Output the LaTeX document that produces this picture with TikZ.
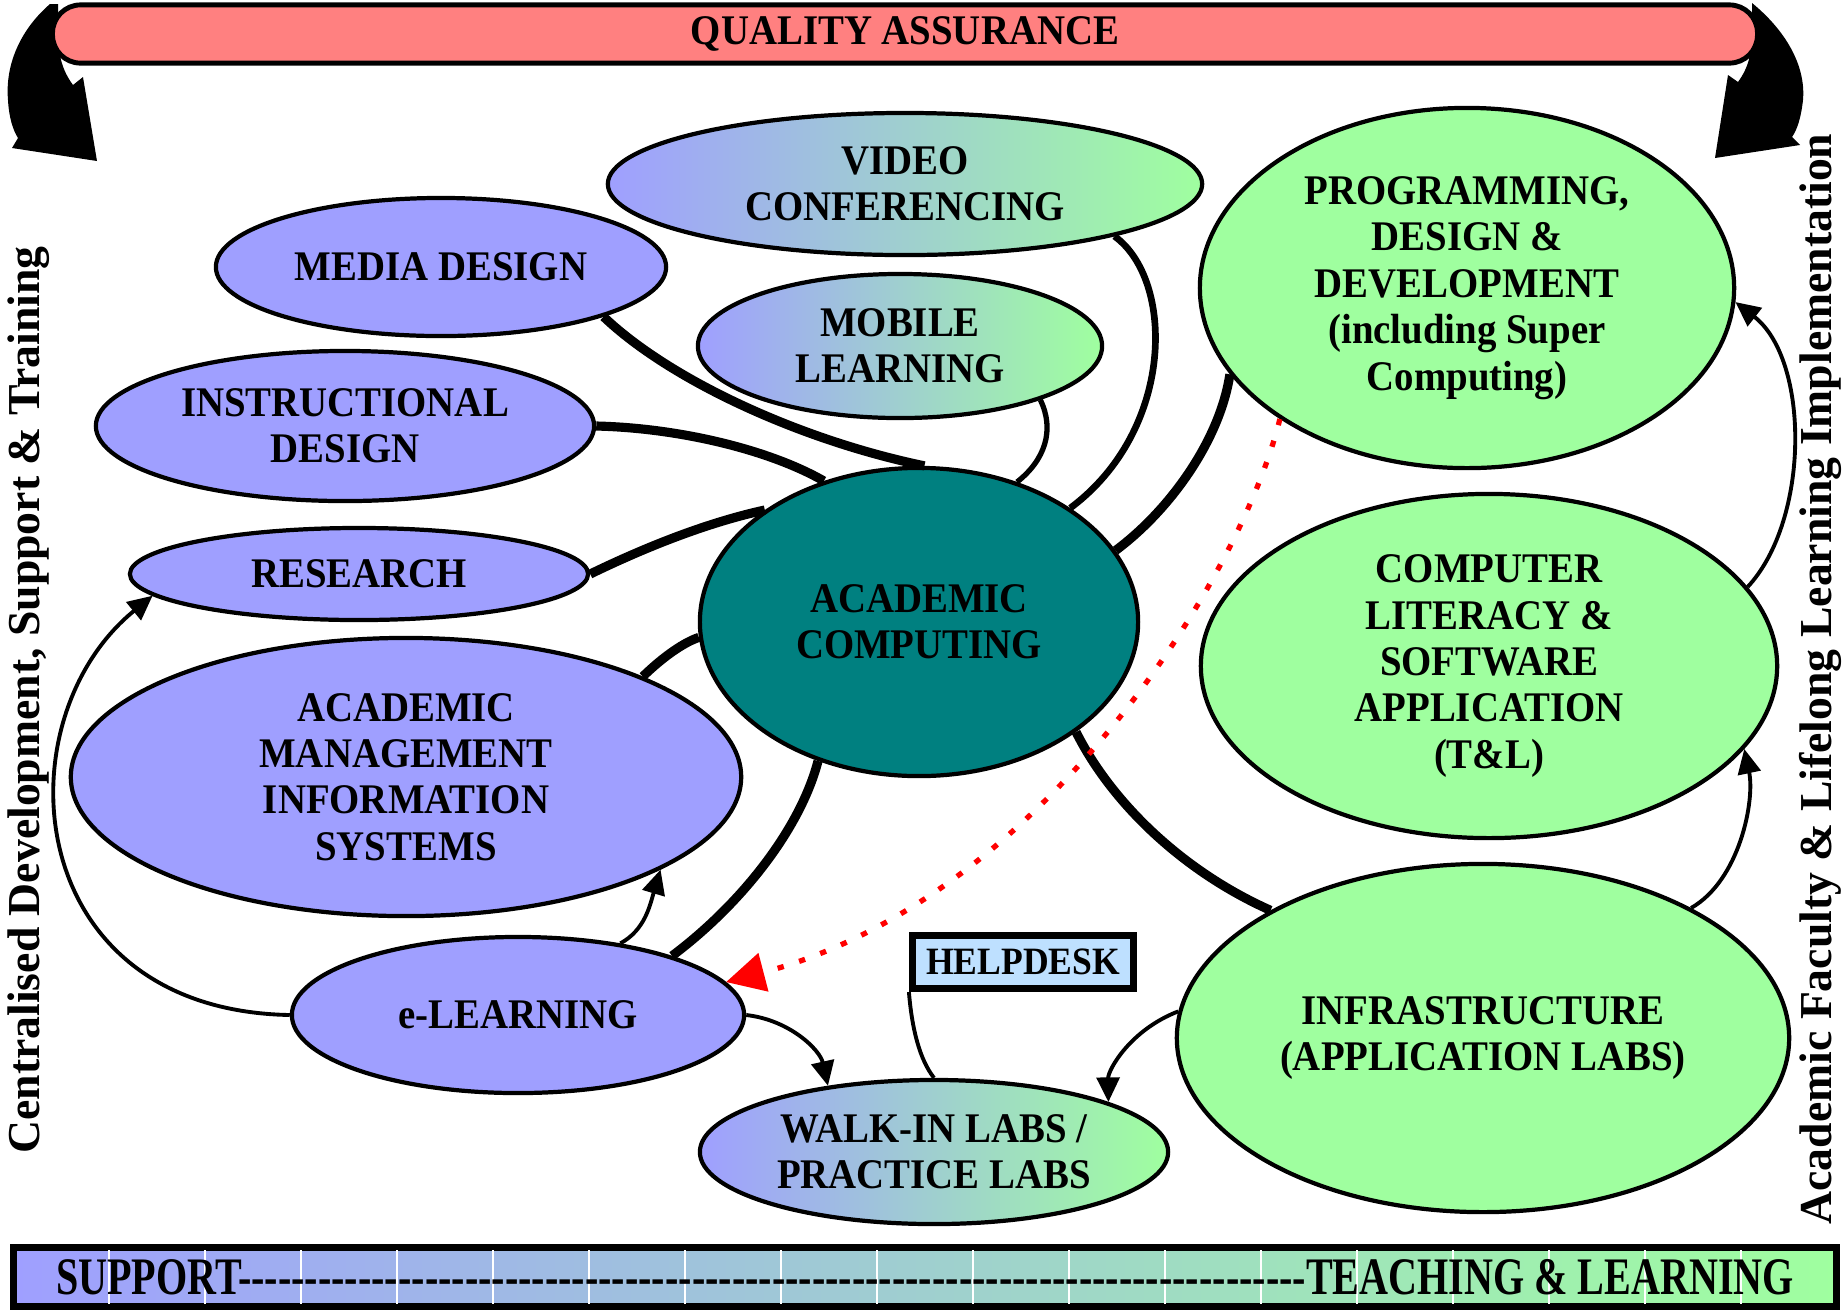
\documentclass[tikz,border=0pt]{standalone}
\usepackage{fontspec}
\setmainfont{Liberation Serif}
\newfontfamily\ovalfont{Liberation Serif}[FakeStretch=0.92]
\newfontfamily\stripfont{Liberation Serif}[FakeStretch=0.76]
\usetikzlibrary{arrows.meta,shapes.geometric}
\definecolor{lavender}{RGB}{159,159,255}
\definecolor{mint}{RGB}{159,255,159}
\definecolor{tealnode}{RGB}{0,128,128}
\definecolor{salmon}{RGB}{255,128,128}
\definecolor{skyfill}{RGB}{190,224,255}
\tikzset{
    oval/.style={ellipse, draw, line width=1.2pt, inner sep=0pt, align=center,
        font=\ovalfont\bfseries\fontsize{12}{13.2}\selectfont},
    support/.style={oval, fill=lavender},
    teaching/.style={oval, fill=mint},
    bridge/.style={oval, left color=lavender, right color=mint},
    spoke/.style={line width=2.6pt},
    link/.style={line width=1.1pt, -{Triangle[length=7pt,width=6.5pt]}},
    redlink/.style={red, line width=1.5pt, dash pattern=on 1.8pt off 4.6pt,
        -{Triangle[length=11pt,width=11pt]}},
    sidetext/.style={font=\bfseries\fontsize{13}{15}\selectfont, rotate=90}
}
\newcommand{\dashrow}{\foreach \i in {1,...,80}{-\kern0pt}}

\begin{document}
\begin{tikzpicture}[x=0.01cm, y=-0.01cm]
    \useasboundingbox (0,0) rectangle (1845,1311);

    \fill (50,4) .. controls (20,30) and (5,65) .. (8,100) .. controls (9,118) and (13,130) .. (18,138)
        -- (12,148) -- (97,161) -- (83,77) -- (73,85) .. controls (62,70) and (58,55) .. (58,30) -- (58,4) -- cycle;
    \fill (1752,3) .. controls (1785,30) and (1806,65) .. (1803,100) .. controls (1801,118) and (1797,130) .. (1792,137)
        -- (1800,145) -- (1715,158) -- (1728,75) -- (1738,82) .. controls (1748,68) and (1752,55) .. (1752,30) -- cycle;
    \node[draw, line width=1.4pt, fill=salmon, rounded corners=8pt, minimum width=17.04cm, minimum height=0.58cm,
        font=\ovalfont\bfseries\fontsize{12}{14}\selectfont] (qa) at (905,34) {QUALITY ASSURANCE};

    \node[sidetext] (centrallbl) at (29,700) {Centralised Development, Support \& Training};
    \node[sidetext] (facultylbl) at (1820,679) {Academic Faculty \& Lifelong Learning Implementation};

    \node[support, minimum width=4.5cm, minimum height=1.38cm] (media) at (441,267) {MEDIA DESIGN};
    \node[support, minimum width=4.98cm, minimum height=1.5cm] (instr) at (345,426) {INSTRUCTIONAL\\DESIGN};
    \node[support, minimum width=4.58cm, minimum height=0.92cm] (research) at (359,574) {RESEARCH};
    \node[support, minimum width=6.7cm, minimum height=2.78cm] (amis) at (406,777) {ACADEMIC\\MANAGEMENT\\INFORMATION\\SYSTEMS};
    \node[support, minimum width=4.52cm, minimum height=1.56cm] (elearn) at (518,1015) {e-LEARNING};
    \node[bridge, minimum width=4.68cm, minimum height=1.44cm] (walkin) at (934,1152) {WALK-IN LABS /\\PRACTICE LABS};
    \node[oval, fill=tealnode, minimum width=4.38cm, minimum height=3.08cm] (acad) at (919,622) {ACADEMIC\\COMPUTING};
    \node[bridge, minimum width=5.94cm, minimum height=1.42cm] (video) at (905,184) {VIDEO\\CONFERENCING};
    \node[bridge, minimum width=4.04cm, minimum height=1.44cm] (mobile) at (900,346) {MOBILE\\LEARNING};
    \node[teaching, minimum width=5.34cm, minimum height=3.6cm] (prog) at (1467,288)
        {PROGRAMMING,\\DESIGN \&\\DEVELOPMENT\\(including Super\\Computing)};
    \node[teaching, minimum width=5.76cm, minimum height=3.44cm] (complit) at (1489,666)
        {COMPUTER\\LITERACY \&\\SOFTWARE\\APPLICATION\\(T\&L)};
    \node[teaching, minimum width=6.12cm, minimum height=3.48cm] (infra) at (1483,1038) {INFRASTRUCTURE\\(APPLICATION LABS)};
    \node[draw, line width=2pt, fill=skyfill, minimum width=2.21cm, minimum height=0.53cm, inner sep=0pt,
        font=\ovalfont\bfseries\fontsize{11}{13}\selectfont] (helpdesk) at (1023,962) {HELPDESK};

    \draw[spoke] (media.-17) .. controls (670,380) and (800,440) .. (acad.88);
    \draw[spoke] (instr.0) .. controls (680,428) and (770,450) .. (acad.124);
    \draw[spoke] (research.0) .. controls (650,545) and (710,522) .. (acad.144);
    \draw[spoke] (amis.23) .. controls (665,655) and (685,642) .. (acad.184);
    \draw[spoke] (elearn.21) .. controls (740,905) and (800,830) .. (acad.234);
    \draw[line width=1.5pt] (mobile.-21) .. controls (1055,430) and (1045,460) .. (acad.55);
    \draw[line width=1.9pt] (video.-14) .. controls (1175,280) and (1175,430) .. (acad.37);
    \draw[spoke] (prog.200) .. controls (1220,440) and (1170,510) .. (acad.20);
    \draw[spoke] (infra.149) .. controls (1180,870) and (1110,800) .. (acad.-35);

    \draw[link] (elearn.180) .. controls (20,1010) and (0,720) .. (research.186);
    \draw[link] (elearn.35) .. controls (645,930) and (650,905) .. (amis.-20);
    \draw[link] (elearn.0) .. controls (790,1020) and (820,1050) .. (walkin.148);
    \draw[link] (infra.175) .. controls (1130,1030) and (1108,1070) .. (walkin.16);
    \draw[line width=1.1pt] (helpdesk.south west) .. controls (912,1030) and (920,1060) .. (walkin.90);
    \draw[link] (infra.32) .. controls (1740,880) and (1755,800) .. (complit.-18);
    \draw[link] (complit.17) .. controls (1810,520) and (1810,360) .. (prog.-3);
    \draw[redlink] (prog.215) .. controls (1240,580) and (1040,900) .. (elearn.9);

    \node[draw, line width=2pt, left color=lavender, right color=mint, minimum width=18.22cm, minimum height=0.59cm,
        inner sep=0pt] (tlbar) at (925,1277) {};
    \foreach \x in {109,205,...,1741}
        \draw[white, line width=0.6pt] (\x,1250) -- (\x,1304);
    \node[font=\stripfont\bfseries\fontsize{15}{17}\selectfont] (tltext) at (tlbar.center)
        {SUPPORT\dashrow TEACHING \& LEARNING};
\end{tikzpicture}
\end{document}
